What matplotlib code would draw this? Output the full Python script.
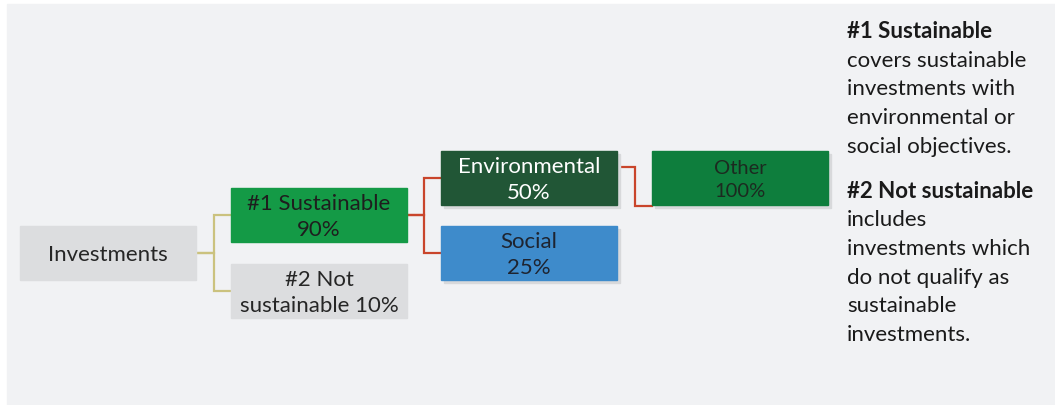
import matplotlib.pyplot as plt
from matplotlib.patches import Rectangle

plt.rcParams['font.family'] = ['Lato', 'DejaVu Sans']

# tree data
node_labels = ['Investments', '#1 Sustainable\n90%', '#2 Not\nsustainable 10%',
               'Environmental\n50%', 'Social\n25%', 'Other\n100%']
node_shares = [100, 90, 10, 50, 25, 100]
node_parent = [None, 0, 0, 1, 1, 3]

# layout (pixel coords: left, top, width, height)
box_pos = [(20, 227), (231, 189), (231, 265), (441, 152), (441, 227), (652, 152)]
box_w, box_h = 176, 54
box_fill = ['#dcdddf', '#149a46', '#dcdddf', '#215636', '#3e8bcb', '#0e7e3d']
text_col = ['#262626', '#1e1e1e', '#262626', '#ffffff', '#1e2430', '#1c2a20']
link_col = {0: '#cbc27e', 1: '#c9452b', 3: '#c9452b'}

side_note = [('#1 Sustainable', True), ('covers sustainable', False),
             ('investments with', False), ('environmental or', False),
             ('social objectives.', False), (None, None),
             ('#2 Not sustainable', True), ('includes', False),
             ('investments which', False), ('do not qualify as', False),
             ('sustainable', False), ('investments.', False)]

fig = plt.figure(figsize=(10.55, 4.06), dpi=100)
fig.patch.set_facecolor('white')
ax = fig.add_axes([0, 0, 1, 1])
ax.set_xlim(0, 1055)
ax.set_ylim(406, 0)
ax.axis('off')

# panel background
ax.add_patch(Rectangle((7, 5), 1048, 401, color='#f1f2f4', zorder=0))

# connectors
for i, p in enumerate(node_parent):
    if p is None:
        continue
    px, py = box_pos[p]
    cx, cy = box_pos[i]
    x0 = px + box_w
    x1 = cx
    xm = (x0 + x1) / 2
    if p == 3:
        y0 = py + 16
        y1 = cy + box_h + 1
    else:
        y0 = py + box_h / 2
        y1 = cy + box_h / 2
    ax.plot([x0, xm, xm, x1], [y0, y0, y1, y1], color=link_col[p],
            lw=1.6, solid_joinstyle='miter', zorder=1)

# boxes
for i, lab in enumerate(node_labels):
    x, y = box_pos[i]
    if i >= 3:
        ax.add_patch(Rectangle((x + 3, y + 3), box_w, box_h, color='#d8d9db', zorder=1.5))
    ax.add_patch(Rectangle((x, y), box_w, box_h, color=box_fill[i], zorder=2))
    fs = 16 if i != 5 else 14.5
    ax.text(x + box_w / 2, y + box_h / 2 + 1, lab, ha='center', va='center',
            fontsize=fs, color=text_col[i], linespacing=1.4, zorder=3)

# side note
y = 32
for txt, bold in side_note:
    if txt is None:
        y += 16
        continue
    ax.text(847, y, txt, ha='left', va='center', fontsize=16,
            fontweight='bold' if bold else 'normal', color='#1a1a1a')
    y += 28.7

fig.savefig('out.png', dpi=100)
